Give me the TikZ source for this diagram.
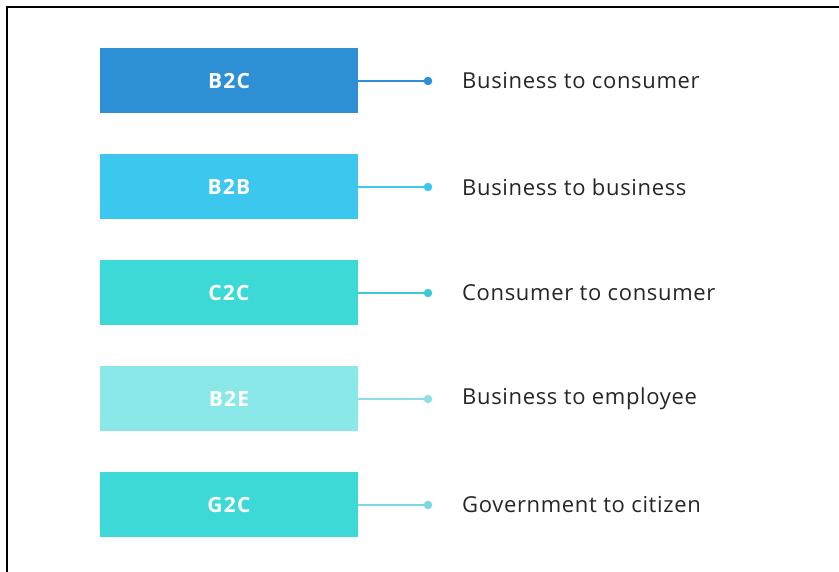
\documentclass[tikz,border=0pt]{standalone}
\usepackage{fontspec}
\setmainfont{Open Sans}
\newfontfamily\labelfont[LetterSpace=3]{Open Sans}
\newfontfamily\codefont[LetterSpace=6]{Open Sans}
\begin{document}
\begin{tikzpicture}[x=1pt,y=1pt,
  box/.style={draw=none, minimum width=258pt, minimum height=65pt, inner sep=0pt,
    font=\codefont\bfseries\fontsize{21}{21}\selectfont, text=white},
  lbl/.style={anchor=west, inner sep=0pt, font=\labelfont\fontsize{22}{22}\selectfont, text=black!85},
  link/.style={line width=1.8pt},
  dotc/.style={circle, inner sep=0pt, minimum size=8.5pt}]
\definecolor{cA}{HTML}{2E90D4}
\definecolor{cB}{HTML}{3CC8EE}
\definecolor{cC}{HTML}{3DD9D6}
\definecolor{cD}{HTML}{8AE8E8}
\definecolor{lA}{HTML}{2E90D4}
\definecolor{lB}{HTML}{3CC8EE}
\definecolor{lC}{HTML}{3DC9D6}
\definecolor{lD}{HTML}{8EE0E6}
\definecolor{lE}{HTML}{7DD8E0}
\useasboundingbox (0,0) rectangle (839,572);
\fill[white] (0,0) rectangle (839,572);
% open frame: left and top edges
\draw[line width=2pt] (7,0) -- (7,565) -- (839,565);
% coloured blocks
\node[box, fill=cA] (r1) at (229,491) {B2C};
\node[box, fill=cB] (r2) at (229,385) {B2B};
\node[box, fill=cC] (r3) at (229,279) {C2C};
\node[box, fill=cD] (r4) at (229,173) {B2E};
\node[box, fill=cC] (r5) at (229,67)  {G2C};
% end dots
\node[dotc, fill=lA] (d1) at (428,491) {};
\node[dotc, fill=lB] (d2) at (428,385) {};
\node[dotc, fill=lC] (d3) at (428,279) {};
\node[dotc, fill=lD] (d4) at (428,173) {};
\node[dotc, fill=lE] (d5) at (428,67)  {};
% connectors
\draw[link, lA] (r1.east) -- (d1.center);
\draw[link, lB] (r2.east) -- (d2.center);
\draw[link, lC] (r3.east) -- (d3.center);
\draw[link, lD] (r4.east) -- (d4.center);
\draw[link, lE] (r5.east) -- (d5.center);
% descriptions
\node[lbl] (t1) at (462,491) {Business to consumer};
\node[lbl] (t2) at (462,385) {Business to business};
\node[lbl] (t3) at (462,279) {Consumer to consumer};
\node[lbl] (t4) at (462,173) {Business to employee};
\node[lbl] (t5) at (462,67)  {Government to citizen};
\end{tikzpicture}
\end{document}
